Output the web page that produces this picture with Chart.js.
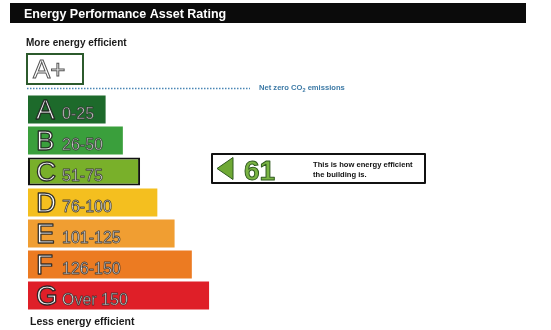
<!DOCTYPE html>
<html>
<head>
<meta charset="utf-8">
<title>Energy Performance Asset Rating</title>
<script src="https://cdn.jsdelivr.net/npm/chart.js@4.4.1/dist/chart.umd.min.js"></script>
<style>
  html, body { margin: 0; padding: 0; background: #fff; }
  #wrap { width: 551px; height: 330px; position: relative; }
</style>
</head>
<body>
<div id="wrap"><canvas id="epcChart"></canvas></div>
<script>
// Rating bands (top = most efficient)
const bandLetters = ['A', 'B', 'C', 'D', 'E', 'F', 'G'];
const bandRanges = ['0-25', '26-50', '51-75', '76-100', '101-125', '126-150', 'Over 150'];
const bandLimits = [25, 50, 75, 100, 125, 150, 175];
const ratingScore = 61;
const ratingBand = 'C';

const FONT = '"Liberation Sans", Arial, sans-serif';
const bandColors = ['#1d6a2b', '#3a9f3c', '#79b02a', '#f4bf1f', '#f09e32', '#ec7b22', '#df1f28'];

// outlined text helper
function outlined(ctx, text, x, y, fill, stroke, lw) {
    ctx.fillStyle = fill;
    ctx.fillText(text, x, y);
    ctx.lineWidth = lw;
    ctx.strokeStyle = stroke;
    ctx.strokeText(text, x, y);
}

const epcDecor = {
    id: 'epcDecor',
    beforeDraw(chart) {
        const ctx = chart.ctx;
        ctx.save();
        ctx.fillStyle = '#fff';
        ctx.fillRect(0, 0, chart.width, chart.height);

        // header bar
        ctx.fillStyle = '#0b0b0b';
        ctx.fillRect(10, 3, 516, 20);
        ctx.fillStyle = '#fff';
        ctx.font = 'bold 12.5px ' + FONT;
        ctx.textBaseline = 'alphabetic';
        ctx.fillText('Energy Performance Asset Rating', 24, 18);

        // top / bottom captions
        ctx.fillStyle = '#1a1a1a';
        ctx.font = 'bold 10px ' + FONT;
        ctx.fillText('More energy efficient', 26, 46);
        ctx.font = 'bold 10.5px ' + FONT;
        ctx.fillText('Less energy efficient', 30, 325);

        // A+ box
        ctx.fillStyle = '#fff';
        ctx.fillRect(27, 54, 56, 30);
        ctx.lineWidth = 2;
        ctx.strokeStyle = '#2c5a2c';
        ctx.strokeRect(27, 54, 56, 30);
        ctx.font = '26px ' + FONT;
        outlined(ctx, 'A+', 33, 78, '#fff', '#555', 1);

        // net zero dotted line
        ctx.beginPath();
        ctx.setLineDash([1.5, 1.5]);
        ctx.lineWidth = 1.5;
        ctx.strokeStyle = '#4a86b5';
        ctx.moveTo(27, 88.5);
        ctx.lineTo(250, 88.5);
        ctx.stroke();
        ctx.setLineDash([]);

        ctx.fillStyle = '#3d7aa6';
        ctx.font = 'bold 7.6px ' + FONT;
        let x = 259;
        const base = 90;
        ctx.fillText('Net zero CO', x, base);
        x += ctx.measureText('Net zero CO').width;
        ctx.font = 'bold 5.5px ' + FONT;
        ctx.fillText('2', x, base + 1.5);
        x += ctx.measureText('2').width;
        ctx.font = 'bold 7.6px ' + FONT;
        ctx.fillText(' emissions', x, base);
        ctx.restore();
    },
    afterDatasetsDraw(chart) {
        const ctx = chart.ctx;
        const meta = chart.getDatasetMeta(0);
        ctx.save();
        ctx.textBaseline = 'alphabetic';
        ctx.lineJoin = 'round';
        meta.data.forEach((bar, i) => {
            const left = bar.base;
            const bottom = bar.y + bar.height / 2;
            ctx.font = '28px ' + FONT;
            outlined(ctx, bandLetters[i], left + 8, bottom - 4, '#fff', 'rgba(30,30,30,0.9)', 1.3);
            ctx.font = '16px ' + FONT;
            outlined(ctx, bandRanges[i], left + 34, bottom - 4, '#fff', 'rgba(40,40,40,0.8)', 0.9);
        });

        // "this building" indicator, placed on its band row
        const yc = chart.scales.y.getPixelForValue(bandLetters.indexOf(ratingBand)) - 3;
        const top = yc - 14.5;
        ctx.fillStyle = '#fff';
        ctx.fillRect(212, top, 213, 29);
        ctx.lineWidth = 2;
        ctx.strokeStyle = '#111';
        ctx.strokeRect(212, top, 213, 29);

        ctx.beginPath();
        ctx.moveTo(217, yc);
        ctx.lineTo(233, yc - 11);
        ctx.lineTo(233, yc + 11);
        ctx.closePath();
        ctx.fillStyle = '#6fa935';
        ctx.fill();
        ctx.lineWidth = 1;
        ctx.strokeStyle = '#2f5a1f';
        ctx.stroke();

        ctx.font = 'bold 28px ' + FONT;
        outlined(ctx, String(ratingScore), 244, yc + 11, '#7ab443', '#2f5a1f', 1);

        ctx.fillStyle = '#111';
        ctx.font = 'bold 7.6px ' + FONT;
        ctx.fillText('This is how energy efficient', 313, yc - 2);
        ctx.fillText('the building is.', 313, yc + 8);
        ctx.restore();
    }
};

const chart = new Chart(document.getElementById('epcChart'), {
    type: 'bar',
    data: {
        labels: bandLetters,
        datasets: [{
            data: bandLimits,
            base: -87.5,
            backgroundColor: bandColors,
            borderColor: '#111',
            borderWidth: bandLetters.map(l => (l === ratingBand ? 2 : 0)),
            borderSkipped: false,
            barPercentage: 0.9,
            categoryPercentage: 1,
        }],
    },
    options: {
        indexAxis: 'y',
        responsive: true,
        maintainAspectRatio: false,
        animation: false,
        layout: {
            padding: { left: 28, right: 26, top: 94, bottom: 19 },
        },
        plugins: {
            legend: { display: false },
            tooltip: { enabled: false },
        },
        scales: {
            x: { display: false, min: -87.5, max: 633 },
            y: { display: false },
        },
    },
    plugins: [epcDecor],
});
</script>
</body>
</html>
